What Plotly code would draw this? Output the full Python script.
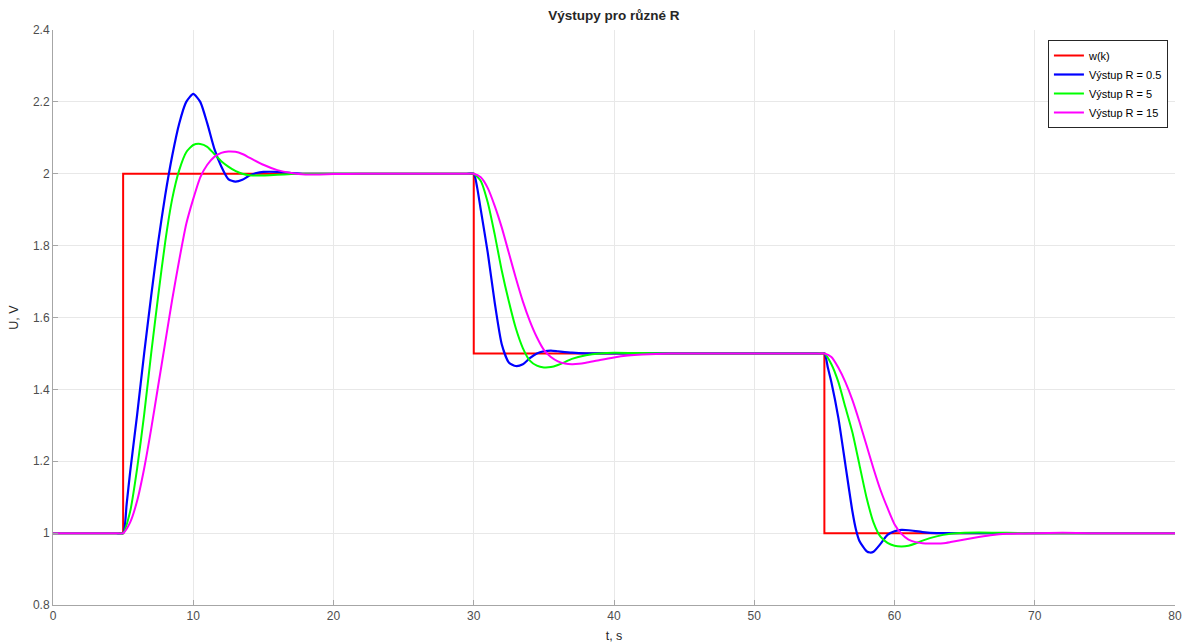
import plotly.graph_objects as go

# Reference signal w(k)
w_t = [0, 5, 5, 30, 30, 55, 55, 80]
w_v = [1.0, 1.0, 2.0, 2.0, 1.5, 1.5, 1.0, 1.0]

# Output R = 0.5 (blue)
b_t = [0, 1, 2, 3, 4, 4.5, 5.0, 5.25, 5.5, 6.0, 6.5, 7.0, 7.5, 8.0, 8.5, 9.0, 9.5, 10.0, 10.5, 11.0, 11.5, 12.0, 12.5,
       13.0, 13.5, 14.0, 14.5, 15.0, 16.0, 17.0, 18.0, 19, 20, 22, 24, 26, 28, 29, 29.5,
       30.0, 30.25, 30.5, 31.0, 31.5, 32.0, 32.5, 33.0, 33.5, 34.0, 34.5, 35.0, 35.5, 36.0, 37.0, 38.0,
       39, 40, 42, 44, 46, 48, 50, 52, 53, 54, 54.5,
       55.0, 55.25, 55.5, 56.0, 56.5, 57.0, 57.25, 57.5, 58.0, 58.25, 58.5, 59.0, 59.5, 60.0, 60.5,
       61.0, 62.0, 63.0, 64, 66, 68, 70, 72, 74, 76, 78, 80.0]
b_v = [1.0, 1.0, 1.0, 1.0, 1.0, 1.0, 1.0, 1.08, 1.17, 1.33, 1.50, 1.66, 1.81, 1.94, 2.05, 2.14, 2.20, 2.222, 2.20, 2.14, 2.07, 2.02, 1.985,
       1.978, 1.983, 1.995, 2.002, 2.005, 2.005, 2.002, 2.0, 2.0, 2.0, 2.0, 2.0, 2.0, 2.0, 2.0, 2.0,
       2.0, 1.96, 1.90, 1.78, 1.64, 1.525, 1.475, 1.465, 1.47, 1.487, 1.50, 1.506, 1.508, 1.506, 1.502, 1.5,
       1.5, 1.5, 1.5, 1.5, 1.5, 1.5, 1.5, 1.5, 1.5, 1.5, 1.5,
       1.5, 1.46, 1.42, 1.32, 1.19, 1.06, 1.01, 0.978, 0.950, 0.946, 0.948, 0.97, 0.995, 1.005, 1.009,
       1.008, 1.003, 1.0, 1.0, 1.0, 1.0, 1.0, 1.0, 1.0, 1.0, 1.0, 1.0]

# Output R = 5 (green)
g_t = [0, 1, 2, 3, 4, 4.5, 5.0, 5.5, 6.0, 6.5, 7.0, 7.5, 8.0, 8.5, 9.0, 9.5, 10.0, 10.5, 11.0, 11.5, 12.0, 12.5, 13.0,
       13.5, 14.0, 15.0, 16.0, 17.0, 18.0, 19, 20, 22, 24, 26, 28, 29, 29.5,
       30.0, 30.5, 31.0, 31.5, 32.0, 32.5, 33.0, 33.5, 34.0, 34.5, 35.0, 35.5, 36.0, 36.5, 37.0, 38.0,
       39.0, 40.0, 42.0, 44.0, 46, 48, 50, 52, 53, 54, 54.5,
       55.0, 55.5, 56.0, 56.5, 57.0, 57.5, 58.0, 58.5, 59.0, 59.5, 60.0, 60.5, 61.0, 61.5, 62.0, 63.0,
       64.0, 65.0, 66.0, 68.0, 70.0, 72, 74, 76, 78, 80.0]
g_v = [1.0, 1.0, 1.0, 1.0, 1.0, 1.0, 1.0, 1.06, 1.18, 1.33, 1.50, 1.66, 1.81, 1.93, 2.01, 2.06, 2.08, 2.083, 2.075, 2.055, 2.035, 2.02, 2.008,
       2.0, 1.996, 1.995, 1.997, 1.999, 2.0, 2.0, 2.0, 2.0, 2.0, 2.0, 2.0, 2.0, 2.0,
       2.0, 1.98, 1.92, 1.83, 1.73, 1.645, 1.57, 1.515, 1.48, 1.466, 1.461, 1.462, 1.468, 1.476, 1.485, 1.495,
       1.5, 1.502, 1.501, 1.5, 1.5, 1.5, 1.5, 1.5, 1.5, 1.5, 1.5,
       1.5, 1.47, 1.42, 1.35, 1.28, 1.19, 1.10, 1.03, 0.99, 0.973, 0.965, 0.963, 0.965, 0.971, 0.979, 0.991,
       0.998, 1.001, 1.002, 1.001, 1.0, 1.0, 1.0, 1.0, 1.0, 1.0]

# Output R = 15 (magenta)
m_t = [0, 1, 2, 3, 4, 4.5, 5.0, 5.5, 6.0, 6.5, 7.0, 7.5, 8.0, 8.5, 9.0, 9.5, 10.0, 10.5, 11.0, 11.5, 12.0, 12.5, 13.0,
       13.5, 14.0, 15.0, 16.0, 17.0, 18.0, 19.0, 20.0, 22.0, 24, 26, 28, 29, 29.5,
       30.0, 30.5, 31.0, 31.5, 32.0, 32.5, 33.0, 33.5, 34.0, 34.5, 35.0, 35.5, 36.0, 36.5, 37.0, 37.5,
       38.0, 39.0, 40.0, 41.0, 42.0, 44.0, 46, 48, 50, 52, 53, 54, 54.5,
       55.0, 55.5, 56.0, 56.5, 57.0, 57.5, 58.0, 58.5, 59.0, 59.5, 60.0, 60.5, 61.0, 61.5, 62.0, 62.5,
       63.0, 63.5, 64.0, 65.0, 66.0, 67.0, 68.0, 70.0, 72.0, 74.0, 76, 78, 80.0]
m_v = [1.0, 1.0, 1.0, 1.0, 1.0, 1.0, 1.0, 1.03, 1.09, 1.18, 1.29, 1.41, 1.53, 1.65, 1.76, 1.86, 1.93, 1.99, 2.025, 2.047, 2.058, 2.062, 2.061,
       2.055, 2.045, 2.025, 2.01, 2.002, 1.998, 1.998, 1.999, 2.0, 2.0, 2.0, 2.0, 2.0, 2.0,
       2.0, 1.99, 1.96, 1.91, 1.85, 1.78, 1.71, 1.645, 1.59, 1.545, 1.51, 1.49, 1.478, 1.472, 1.47, 1.471,
       1.474, 1.482, 1.489, 1.494, 1.497, 1.5, 1.5, 1.5, 1.5, 1.5, 1.5, 1.5, 1.5,
       1.5, 1.49, 1.46, 1.42, 1.37, 1.31, 1.245, 1.18, 1.12, 1.07, 1.025, 0.998, 0.982, 0.975, 0.972, 0.971,
       0.971, 0.972, 0.975, 0.982, 0.989, 0.995, 0.998, 1.0, 1.001, 1.0, 1.0, 1.0, 1.0]

x_ticks = [0, 10, 20, 30, 40, 50, 60, 70, 80]
y_ticks = [0.8, 1.0, 1.2, 1.4, 1.6, 1.8, 2.0, 2.2, 2.4]
y_tick_labels = ["0.8", "1", "1.2", "1.4", "1.6", "1.8", "2", "2.2", "2.4"]

FONT = "Liberation Sans, Arial, Helvetica, sans-serif"

fig = go.Figure()
fig.add_trace(go.Scatter(x=w_t, y=w_v, mode="lines", name="w(k)",
                         line=dict(color="#ff0000", width=2)))
fig.add_trace(go.Scatter(x=b_t, y=b_v, mode="lines", name="Výstup R = 0.5",
                         line=dict(color="#0000ff", width=2.2, shape="spline", smoothing=0.6)))
fig.add_trace(go.Scatter(x=g_t, y=g_v, mode="lines", name="Výstup R = 5",
                         line=dict(color="#00ff00", width=2, shape="spline", smoothing=0.6)))
fig.add_trace(go.Scatter(x=m_t, y=m_v, mode="lines", name="Výstup R = 15",
                         line=dict(color="#ff00ff", width=2, shape="spline", smoothing=0.6)))

axis_common = dict(
    showgrid=True, gridcolor="#e8e8e8", gridwidth=1,
    showline=True, linecolor="#a6a6a6", linewidth=1,
    ticks="inside", ticklen=5, tickcolor="#a6a6a6", tickwidth=1,
    zeroline=False, mirror=False,
    tickfont=dict(family=FONT, size=12, color="#4d4d4d"),
)

fig.update_layout(
    width=1183, height=643,
    margin=dict(l=53, r=8, t=30, b=38, autoexpand=False),
    paper_bgcolor="white", plot_bgcolor="white",
    font=dict(family=FONT, size=12, color="#262626"),
    title=dict(text="<b>Výstupy pro různé R</b>", x=0.519, xanchor="center",
               y=1 - 15 / 643, yanchor="middle", yref="container",
               font=dict(family=FONT, size=13.5, color="#262626")),
    xaxis=dict(range=[0, 80], tickvals=x_ticks,
               title=dict(text="t, s", standoff=9, font=dict(family=FONT, size=12.5, color="#262626")),
               automargin=False, **axis_common),
    yaxis=dict(range=[0.8, 2.4], tickvals=y_ticks, ticktext=y_tick_labels,
               title=dict(text="U, V", standoff=11, font=dict(family=FONT, size=12.5, color="#262626")),
               automargin=False, **axis_common),
    legend=dict(x=0.9937, y=0.9826, xanchor="right", yanchor="top",
                bgcolor="white", bordercolor="#262626", borderwidth=1,
                font=dict(family=FONT, size=11, color="#000000"),
                tracegroupgap=0, itemwidth=30),
    showlegend=True,
)

fig.write_html("out.html")
